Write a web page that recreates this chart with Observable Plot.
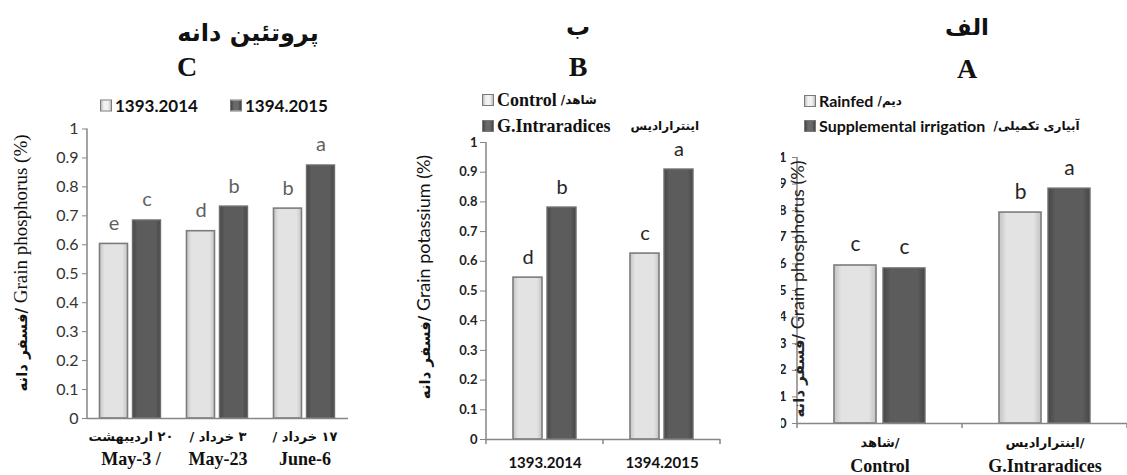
<!DOCTYPE html>
<html><head><meta charset="utf-8">
<script src="https://cdn.jsdelivr.net/npm/d3@7"></script>
<script src="https://cdn.jsdelivr.net/npm/@observablehq/plot@0.6"></script>
<style>
body{margin:0;background:#fff;}
#root{position:relative;width:1127px;height:475px;overflow:hidden;background:#fff;}
#root svg{position:absolute;top:0;}
.abs{position:absolute;white-space:nowrap;color:#111;line-height:1;}
.fa{font-family:"DejaVu Sans",sans-serif;font-weight:bold;}
.tnr{font-family:"Liberation Serif",serif;font-weight:bold;}
.sans{font-family:Lato,"DejaVu Sans",sans-serif;}
.ctr{transform:translate(-50%,-50%);}
.rot{transform:translate(-50%,-50%) rotate(-90deg);}
.row{transform:translateY(-50%);display:flex;align-items:center;}
.sw{display:inline-block;width:12px;height:12px;border:1.5px solid #7a7a7a;box-sizing:border-box;margin-right:3px;}
.swl{background:linear-gradient(90deg,#bdbdbd,#f2f2f2 30%,#f2f2f2 70%,#bdbdbd);}
.swd{background:linear-gradient(90deg,#444,#6a6a6a 30%,#6a6a6a 70%,#444);}
</style></head><body><div id="root"></div>
<script>
// ---------- data ----------
const yTicks = [0, 0.1, 0.2, 0.3, 0.4, 0.5, 0.6, 0.7, 0.8, 0.9, 1];

// Panel C
const catsC = ["May-3", "May-23", "June-6"];
const catsCfa = ["۲۰ اردیبهشت", "۳ خرداد /", "۱۷ خرداد /"];
const catsCen = ["May-3 /", "May-23", "June-6"];
const seriesC = ["1393.2014", "1394.2015"];
const valuesC1 = [0.603, 0.647, 0.725];
const valuesC2 = [0.684, 0.732, 0.874];
const lettersC1 = ["e", "d", "b"];
const lettersC2 = ["c", "b", "a"];

// Panel B
const catsB = ["1393.2014", "1394.2015"];
const seriesB = ["Control", "G.Intraradices"];
const valuesB1 = [0.545, 0.626];
const valuesB2 = [0.781, 0.909];
const lettersB1 = ["d", "c"];
const lettersB2 = ["b", "a"];

// Panel A
const catsA = ["Control", "G.Intraradices"];
const catsAfa = ["شاهد/", "اینترارادیس/"];
const seriesA = ["Rainfed", "Supplemental irrigation"];
const valuesA1 = [0.594, 0.793];
const valuesA2 = [0.583, 0.883];
const lettersA1 = ["c", "b"];
const lettersA2 = ["c", "a"];

// ---------- helpers ----------
const root = document.getElementById("root");
const H = 475;

// gradient defs shared by all panels
const defsSvg = d3.select(root).append("svg").attr("width", 0).attr("height", 0);
const defs = defsSvg.append("defs");
function grad(id, edge, mid) {
  const g = defs.append("linearGradient").attr("id", id).attr("x1", 0).attr("x2", 1).attr("y1", 0).attr("y2", 0);
  [[0, edge], [0.18, mid], [0.82, mid], [1, edge]].forEach(([o, c]) => g.append("stop").attr("offset", o).attr("stop-color", c));
}
grad("gl", "#c4c4c4", "#e3e3e3");
grad("gd", "#474747", "#5c5c5c");

function panel(cfg) {
  const rows = cfg.cats.flatMap((c, i) => [
    {cat: c, s: cfg.series[0], v: cfg.v1[i], l: cfg.l1[i]},
    {cat: c, s: cfg.series[1], v: cfg.v2[i], l: cfg.l2[i]}
  ]);
  const chart = Plot.plot({
    width: cfg.width, height: H,
    marginLeft: cfg.ml, marginRight: cfg.mr, marginTop: cfg.mt, marginBottom: cfg.mb,
    style: {background: "transparent", overflow: "visible"},
    fx: {domain: cfg.cats, paddingInner: 0, paddingOuter: 0, axis: null, label: null},
    x: {domain: cfg.series, paddingInner: cfg.pi, paddingOuter: cfg.po, axis: null, label: null},
    y: {domain: [0, 1], axis: null, label: null},
    marks: [
      Plot.barY(rows.filter(d => d.s === cfg.series[0]), {fx: "cat", x: "s", y: "v", fill: "url(#gl)", stroke: "#7c7c7c", strokeWidth: 1.6}),
      Plot.barY(rows.filter(d => d.s === cfg.series[1]), {fx: "cat", x: "s", y: "v", fill: "url(#gd)", stroke: "#6e6e6e", strokeWidth: 1.4}),
      Plot.text(rows, {fx: "cat", x: "s", y: "v", text: "l", lineAnchor: "bottom", dy: -14,
        fontSize: cfg.letterSize, fontFamily: "Lato, sans-serif", fill: cfg.letterColor}),
      Plot.ruleY([0], {stroke: "#868686", strokeWidth: 1.5}),
      Plot.axisY({ticks: yTicks, tickSize: cfg.tickSize, tickPadding: cfg.tickPad, stroke: "#868686",
        fill: cfg.tickColor, fontSize: cfg.tickFontSize, fontWeight: cfg.tickWeight, fontFamily: "Lato, sans-serif",
        tickFormat: d => d3.format("")(d)}),
      ...cfg.xLabels.map(o => Plot.axisFx({anchor: "bottom", tickSize: 0, tickPadding: o.pad, tickFormat: o.fmt,
        fontSize: o.size, fontFamily: o.family, fontWeight: "bold", fill: "#111"}))
    ]
  });
  chart.style.left = cfg.left + "px";
  root.appendChild(chart);
  const s = d3.select(chart);
  const fx = chart.scale("fx"), y = chart.scale("y");
  const x0 = fx.apply(cfg.cats[0]);
  const y0 = y.apply(0), y1 = y.apply(1);
  s.append("line").attr("x1", x0).attr("x2", x0).attr("y1", y0).attr("y2", y1)
    .attr("stroke", "#868686").attr("stroke-width", 1.5);
  if (cfg.boundaryTicks) {
    const b = cfg.cats.map(c => fx.apply(c)).concat([fx.apply(cfg.cats[cfg.cats.length - 1]) + fx.bandwidth]);
    b.forEach(bx => s.append("line").attr("x1", bx).attr("x2", bx).attr("y1", y0).attr("y2", y0 + 5)
      .attr("stroke", "#868686").attr("stroke-width", 1.5));
  }
  return chart;
}

const rle = t => "\u202B" + t + "\u202C";

// Panel C
panel({id: "C", left: 0, width: 380, ml: 86.5, mr: 32, mt: 128.5, mb: H - 418,
  cats: catsC, series: seriesC, v1: valuesC1, v2: valuesC2, l1: lettersC1, l2: lettersC2,
  pi: 0.147, po: 0.357, letterSize: 20, letterColor: "#5f5f5f",
  tickSize: 5, tickPad: 4, tickFontSize: 16, tickWeight: "normal", tickColor: "#333",
  xLabels: [
    {pad: 13, size: 13, family: "DejaVu Sans, sans-serif", fmt: d => rle(catsCfa[catsC.indexOf(d)])},
    {pad: 34, size: 18, family: "Liberation Serif, serif", fmt: d => catsCen[catsC.indexOf(d)]}
  ]});

// Panel B
panel({id: "B", left: 380, width: 380, ml: 106, mr: 40, mt: 142, mb: H - 439,
  cats: catsB, series: seriesB, v1: valuesB1, v2: valuesB2, l1: lettersB1, l2: lettersB2,
  pi: 0.143, po: 0.743, letterSize: 20, letterColor: "#262626",
  tickSize: 6, tickPad: 3, tickFontSize: 13, tickWeight: "bold", tickColor: "#222",
  boundaryTicks: true,
  xLabels: [
    {pad: 18, size: 15, family: "Lato, sans-serif", fmt: d => d}
  ]});

// Panel A
panel({id: "A", left: 760, width: 367, ml: 37, mr: 0, mt: 157, mb: H - 423,
  cats: catsA, series: seriesA, v1: valuesA1, v2: valuesA2, l1: lettersA1, l2: lettersA2,
  pi: 0.143, po: 0.755, letterSize: 21, letterColor: "#262626",
  tickSize: 5, tickPad: 6, tickFontSize: 13, tickWeight: "bold", tickColor: "#222",
  boundaryTicks: true,
  xLabels: [
    {pad: 14, size: 13, family: "DejaVu Sans, sans-serif", fmt: d => catsAfa[catsA.indexOf(d)]},
    {pad: 36, size: 18, family: "Liberation Serif, serif", fmt: d => d}
  ]});

// ---------- titles, legends, axis titles (HTML) ----------
function el(html, cls, x, y, style = "") {
  const d = document.createElement("div");
  d.className = "abs " + cls;
  d.style.cssText = `left:${x}px;top:${y}px;${style}`;
  d.innerHTML = html;
  root.appendChild(d);
  return d;
}
// panel A: its tick labels are cut off at the left in the original
el("", "", 735, 140, "width:46px;height:300px;background:#fff;");

// titles
el("پروتئین دانه", "fa ctr", 248, 33, "font-size:24px;");
el("C", "tnr ctr", 187, 67, "font-size:28px;");
el("ب", "fa ctr", 578, 27, "font-size:24px;");
el("B", "tnr ctr", 578, 67, "font-size:28px;");
el("الف", "fa ctr", 967, 27, "font-size:23px;");
el("A", "tnr ctr", 967, 69, "font-size:28px;");

// legends
el(`<span class="sw swl"></span><span class="sans" style="font-weight:bold;font-size:17px">${seriesC[0]}</span>`, "row", 100, 105);
el(`<span class="sw swd"></span><span class="sans" style="font-weight:bold;font-size:17px">${seriesC[1]}</span>`, "row", 230, 105);

el(`<span class="sw swl"></span><span class="tnr" style="font-size:18px">${seriesB[0]}</span><span class="fa" style="font-size:12px">&nbsp;/شاهد</span>`, "row", 482, 100);
el(`<span class="sw swd"></span><span class="tnr" style="font-size:18px">${seriesB[1]}</span><span class="fa" style="font-size:12px;margin-left:20px">اینترارادیس</span>`, "row", 482, 126);

el(`<span class="sw swl"></span><span class="sans" style="font-weight:bold;font-size:16px">${seriesA[0]}</span><span class="fa" style="font-size:12px">&nbsp;/دیم</span>`, "row", 804, 101);
el(`<span class="sw swd"></span><span class="sans" style="font-weight:bold;font-size:16px">${seriesA[1]}</span><span class="fa" style="font-size:12px">&nbsp;&nbsp;/آبیاری تکمیلی</span>`, "row", 804, 126);

// y-axis titles
el(`<span class="fa" style="font-size:15px">فسفر دانه/</span><span class="tnr" style="font-weight:normal;font-size:19px">&nbsp;Grain phosphorus (%)</span>`, "rot", 20, 263);
el(`<span class="fa" style="font-size:15px">فسفر دانه/</span><span class="sans" style="font-size:18px">&nbsp;Grain potassium (%)</span>`, "rot", 423, 277);
el(`<span class="fa" style="font-size:15px">فسفر دانه/</span><span class="sans" style="font-size:18px">&nbsp;Grain phosphorus (%)</span>`, "rot", 797, 289, "color:#222;");
</script>
</body></html>
